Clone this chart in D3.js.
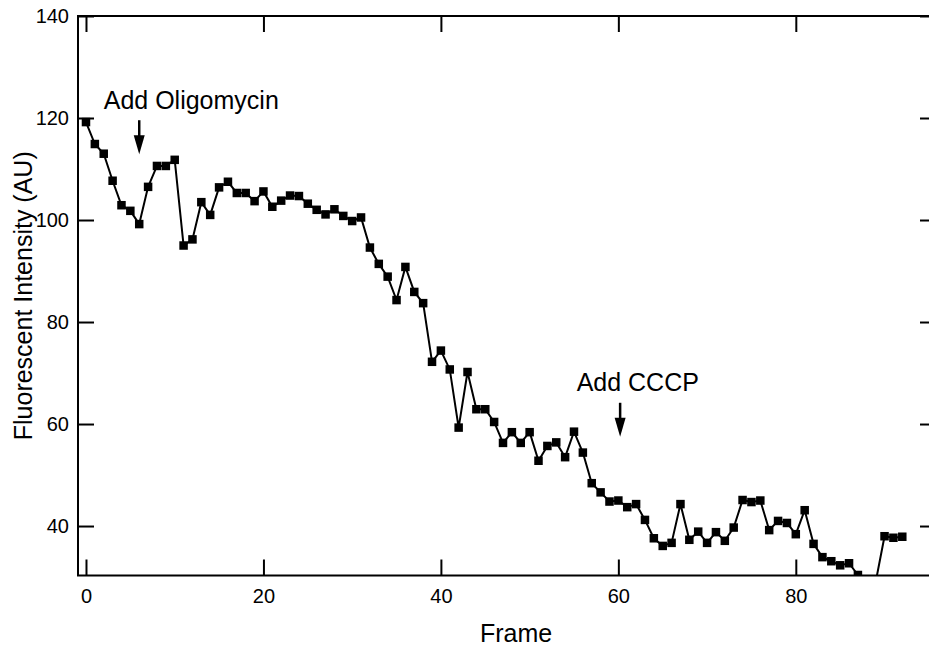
<!DOCTYPE html>
<html>
<head>
<meta charset="utf-8">
<script src="https://cdn.jsdelivr.net/npm/d3@7"></script>
<style>
  body { margin: 0; background: #fff; }
  svg { display: block; font-family: "Liberation Sans", Arial, Helvetica, sans-serif; }
</style>
</head>
<body>
<svg id="chart" width="929" height="649"></svg>
<script>
// fluorescence per frame (frames 88, 89 fall below the axis and get clipped)
const frames = d3.range(0, 93);
const intensity = [
  119.2, 114.9, 113.0, 107.7, 102.9, 101.8, 99.2, 106.5, 110.6, 110.6,
  111.8, 95.0, 96.2, 103.5, 101.0, 106.4, 107.5, 105.3, 105.3, 103.7,
  105.6, 102.6, 103.8, 104.8, 104.7, 103.2, 102.0, 101.1, 102.1, 100.8,
  99.8, 100.5, 94.6, 91.4, 88.9, 84.3, 90.8, 85.9, 83.7, 72.2,
  74.4, 70.7, 59.3, 70.2, 62.9, 62.9, 60.4, 56.3, 58.4, 56.3,
  58.4, 52.8, 55.7, 56.4, 53.5, 58.5, 54.4, 48.4, 46.6, 44.8,
  45.0, 43.7, 44.3, 41.2, 37.6, 36.1, 36.7, 44.3, 37.3, 38.9,
  36.7, 38.8, 37.1, 39.7, 45.1, 44.7, 45.0, 39.2, 41.0, 40.6,
  38.4, 43.1, 36.5, 33.9, 33.1, 32.3, 32.7, 30.4, 25.0, 29.0,
  38.0, 37.7, 37.9
];
const xTicks = [0, 20, 40, 60, 80];
const yTicks = [40, 60, 80, 100, 120, 140];
const notes = [
  { text: "Add Oligomycin", frame: 6, value: 112.9 },
  { text: "Add CCCP", frame: 60.2, value: 57.5 }
];

const data = frames.map((f, i) => ({ frame: f, value: intensity[i] }));

const margin = { top: 16, right: -7, bottom: 73.5, left: 78 };
const width = 929 - margin.left - margin.right;
const height = 649 - margin.top - margin.bottom;

const svg = d3.select('#chart');
const g = svg.append('g').attr('transform', `translate(${margin.left},${margin.top})`);

const x = d3.scaleLinear().domain([-0.9, 95.8]).range([0, width]);
const y = d3.scaleLinear().domain([30.3, 140]).range([height, 0]);

g.append('defs').append('clipPath').attr('id', 'plot')
  .append('rect').attr('width', width).attr('height', height);

// axes with inward ticks, mirrored on top and right
const tick = 16;
const axisStyle = sel => {
  sel.select('.domain').remove();
  sel.selectAll('line').attr('stroke', '#000').attr('stroke-width', 2);
  sel.selectAll('text').attr('fill', '#000').style('font-size', '20px');
};

g.append('g').attr('transform', `translate(0,${height})`)
  .call(d3.axisBottom(x).tickValues(xTicks).tickSize(-tick))
  .call(axisStyle)
  .selectAll('text').attr('dy', 0).attr('y', 27.5);
g.append('g')
  .call(d3.axisTop(x).tickValues(xTicks).tickSize(-tick).tickFormat(''))
  .call(axisStyle);
g.append('g')
  .call(d3.axisLeft(y).tickValues(yTicks).tickSize(-tick).tickPadding(9))
  .call(axisStyle);
g.append('g').attr('transform', `translate(${width},0)`)
  .call(d3.axisRight(y).tickValues(yTicks).tickSize(-tick).tickFormat(''))
  .call(axisStyle);

g.append('rect')
  .attr('width', width).attr('height', height)
  .attr('fill', 'none').attr('stroke', '#000').attr('stroke-width', 2);

// data
const plot = g.append('g').attr('clip-path', 'url(#plot)');
plot.append('path')
  .datum(data)
  .attr('fill', 'none').attr('stroke', '#000').attr('stroke-width', 2)
  .attr('d', d3.line().x(d => x(d.frame)).y(d => y(d.value)));
const ms = 8.5;
plot.selectAll('rect.pt')
  .data(data)
  .join('rect')
  .attr('class', 'pt')
  .attr('x', d => x(d.frame) - ms / 2)
  .attr('y', d => y(d.value) - ms / 2)
  .attr('width', ms).attr('height', ms)
  .attr('fill', '#000');

// annotations: arrow pointing down to (frame, value), text above
const note = g.selectAll('g.note').data(notes).join('g')
  .attr('class', 'note')
  .attr('transform', d => `translate(${x(d.frame)},${y(d.value)})`);
note.append('line')
  .attr('y1', -34).attr('y2', -16)
  .attr('stroke', '#000').attr('stroke-width', 2.5);
note.append('path')
  .attr('d', 'M-5.5,-19L5.5,-19L0,0Z')
  .attr('fill', '#000');
note.append('text')
  .attr('x', (d, i) => i === 0 ? -35.5 : -43.5)
  .attr('y', -45.5)
  .style('font-size', '25px')
  .text(d => d.text);

// axis titles
svg.append('text')
  .attr('x', 516).attr('y', 641.5)
  .attr('text-anchor', 'middle')
  .style('font-size', '25px')
  .text('Frame');
svg.append('text')
  .attr('transform', `translate(31.5,${margin.top + height / 2}) rotate(-90)`)
  .attr('text-anchor', 'middle')
  .style('font-size', '25px')
  .text('Fluorescent Intensity (AU)');
</script>
</body>
</html>
